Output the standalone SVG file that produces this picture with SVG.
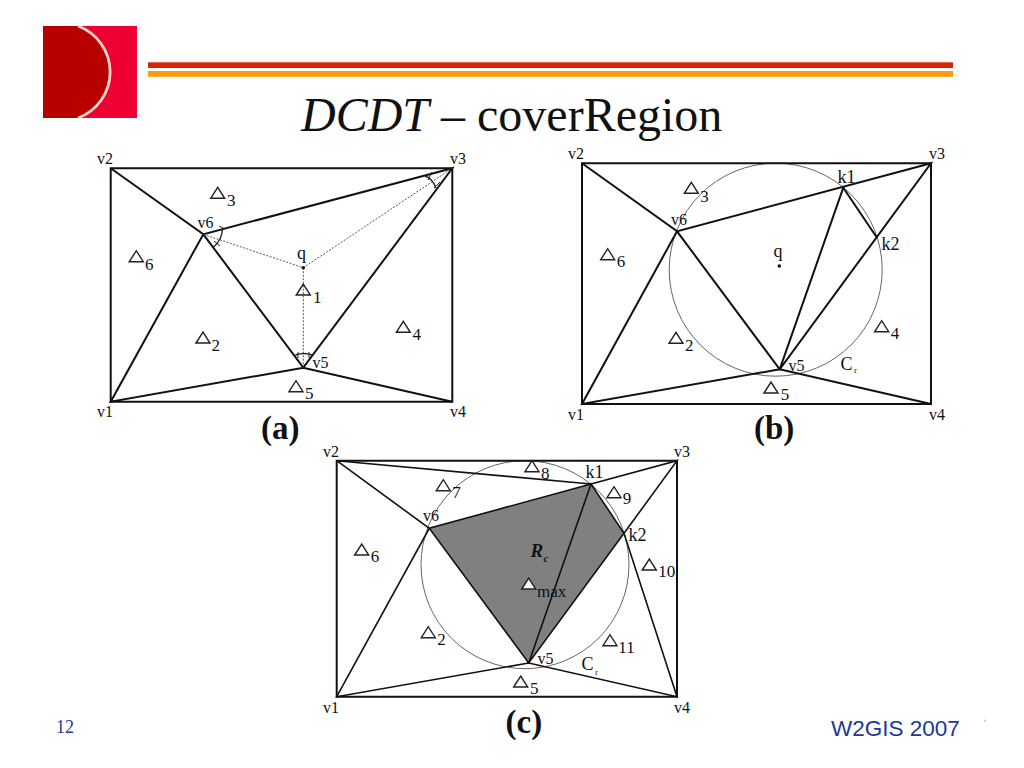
<svg xmlns="http://www.w3.org/2000/svg" xmlns:xlink="http://www.w3.org/1999/xlink" width="1024" height="768" viewBox="0 0 1024 768">
<style>
text{font-family:"Liberation Serif",serif;fill:#111}
.l{font-size:16px}
.k{font-size:18px}
.s{font-size:17px}
.cap{font-size:33px;font-weight:bold}
.e{fill:none;stroke:#111;stroke-width:2;stroke-linejoin:miter}
.t{stroke-width:1.600}
.d{fill:none;stroke:#444;stroke-width:.9;stroke-dasharray:2 1.5}
.c{fill:none;stroke:#666;stroke-width:1}
.m{fill:none;stroke:#222;stroke-width:1}
.tri{fill:none;stroke:#222;stroke-width:1.400}
</style>
<defs><path id="tri" d="M0 0L7 -11L14 0Z" class="tri"/></defs>
<rect width="1024" height="768" fill="#fff"/>
<g id="logo">
<rect x="43" y="26" width="94" height="92" fill="#ee0033"/>
<path d="M43 26H78A49 49 0 0 1 78 118H43Z" fill="#b80000"/>
<path d="M78 26A49 49 0 0 1 78 118" fill="none" stroke="#ffd5c8" stroke-width="2.800"/>
</g>
<g id="header-bars">
<rect x="148" y="62.300" width="805" height="5.700" fill="#d8260a"/>
<rect x="148" y="71" width="805" height="5.700" fill="#ff9a00"/>
</g>
<text id="title" x="301" y="131" font-size="48"><tspan font-style="italic">DCDT</tspan> – coverRegion</text>

<g id="panel-a">
<g id="a-connectors">
<path class="e" d="M110.700 168.300H452.300V401.700H110.700Z"/>
<path class="e" d="M110.700 168.300L203.300 234.300L303.300 367.700L452.300 168.300L203.300 234.300L110.700 401.700L303.300 367.700L452.300 401.700"/>
<path class="d" d="M203.300 234.300L303.300 267.700L452.300 168.300M303.300 267.700V367.700"/>
<path class="m" style="stroke-width:1.400" d="M213.500 247Q222 240 222.500 229M295.500 355Q303 352 312.500 355M425 176Q432 178 436 188"/>
<path class="m" d="M220 246L214 241M225 229L219 226M298 352V358M309 352V358M432 172L428 180M440 182L434 188"/>
</g>
<circle id="a-q-dot" cx="303.300" cy="267.700" r="1.800" fill="#111"/>
<g id="a-v1"><text class="l" x="97" y="417">v1</text></g>
<g id="a-v2"><text class="l" x="97" y="164">v2</text></g>
<g id="a-v3"><text class="l" x="450" y="164">v3</text></g>
<g id="a-v4"><text class="l" x="450" y="417">v4</text></g>
<g id="a-v5"><text class="l" x="312.500" y="368">v5</text></g>
<g id="a-v6"><text class="l" x="197.500" y="228">v6</text></g>
<g id="a-q"><text class="k" x="297" y="259">q</text></g>
<g id="a-t1"><use href="#tri" x="296.300" y="295"/><text class="s" x="313" y="302.500">1</text></g>
<g id="a-t2"><use href="#tri" x="196" y="343"/><text class="s" x="211.500" y="350.500">2</text></g>
<g id="a-t3"><use href="#tri" x="210.700" y="198.300"/><text class="s" x="227" y="205.700">3</text></g>
<g id="a-t4"><use href="#tri" x="396.300" y="332.300"/><text class="s" x="412.500" y="339.700">4</text></g>
<g id="a-t5"><use href="#tri" x="289" y="391.700"/><text class="s" x="305" y="399">5</text></g>
<g id="a-t6"><use href="#tri" x="129.300" y="261.700"/><text class="s" x="145" y="269.700">6</text></g>
<text id="a-caption" class="cap" x="261" y="439">(a)</text>
</g>

<g id="panel-b">
<g id="b-connectors">
<circle class="c" cx="775.700" cy="269.700" r="106.500"/>
<path class="e" d="M582 163.300H931V404H582Z"/>
<path class="e" d="M582 163.300L677 231.300L779.700 369.300L931 163.300L677 231.300L582 404L779.700 369.300L931 404M843.300 187.700L779.700 369.300M843.300 187.700L876.300 236.700"/>
</g>
<circle id="b-q-dot" cx="779.300" cy="266" r="1.800" fill="#111"/>
<g id="b-v1"><text class="l" x="568" y="420">v1</text></g>
<g id="b-v2"><text class="l" x="568" y="159">v2</text></g>
<g id="b-v3"><text class="l" x="929" y="159">v3</text></g>
<g id="b-v4"><text class="l" x="929" y="420">v4</text></g>
<g id="b-v5"><text class="l" x="788.500" y="371">v5</text></g>
<g id="b-v6"><text class="l" x="671" y="225">v6</text></g>
<g id="b-k1"><text class="k" x="837.500" y="182.500">k1</text></g>
<g id="b-k2"><text class="k" x="881.500" y="250">k2</text></g>
<g id="b-q"><text class="k" x="773.500" y="257">q</text></g>
<g id="b-t2"><use href="#tri" x="669" y="343.300"/><text class="s" x="685" y="350.700">2</text></g>
<g id="b-t3"><use href="#tri" x="684.300" y="193.300"/><text class="s" x="700.300" y="201.700">3</text></g>
<g id="b-t4"><use href="#tri" x="874.700" y="331.700"/><text class="s" x="890.700" y="339.300">4</text></g>
<g id="b-t5"><use href="#tri" x="764" y="393"/><text class="s" x="780.700" y="400.300">5</text></g>
<g id="b-t6"><use href="#tri" x="600.700" y="259.700"/><text class="s" x="616.700" y="267">6</text></g>
<g id="b-cr"><text class="k" x="840.500" y="369.500">C</text><text font-size="9" x="854" y="373">r</text></g>
<text id="b-caption" class="cap" x="754" y="439">(b)</text>
</g>

<g id="panel-c">
<g id="c-region"><path d="M429.300 528.300L591 484L624 533.300L528.700 663Z" fill="#808080"/></g>
<g id="c-connectors">
<circle class="c" cx="525" cy="564.700" r="104"/>
<path class="e" d="M336.700 460.700H677V696.700H336.700Z"/>
<path class="e t" d="M336.700 460.700L429.300 528.300L528.700 663L624 533.300L677 460.700L591 484L429.300 528.300L336.700 696.700L528.700 663L677 696.700L624 533.300L591 484L528.700 663M336.700 460.700L591 484"/>
</g>
<g id="c-v1"><text class="l" x="323" y="713">v1</text></g>
<g id="c-v2"><text class="l" x="323" y="457">v2</text></g>
<g id="c-v3"><text class="l" x="674" y="457">v3</text></g>
<g id="c-v4"><text class="l" x="674" y="713">v4</text></g>
<g id="c-v5"><text class="l" x="537.500" y="664">v5</text></g>
<g id="c-v6"><text class="l" x="423" y="521">v6</text></g>
<g id="c-k1"><text class="k" x="585.500" y="477.500">k1</text></g>
<g id="c-k2"><text class="k" x="628.500" y="541">k2</text></g>
<g id="c-t2"><use href="#tri" x="421.300" y="637.700"/><text class="s" x="437.300" y="645">2</text></g>
<g id="c-t5"><use href="#tri" x="513.700" y="687"/><text class="s" x="530" y="694.300">5</text></g>
<g id="c-t6"><use href="#tri" x="354.700" y="555"/><text class="s" x="370.700" y="562.300">6</text></g>
<g id="c-t7"><use href="#tri" x="436.300" y="490.700"/><text class="s" x="452.300" y="498.300">7</text></g>
<g id="c-t8"><use href="#tri" x="525" y="471.700"/><text class="s" x="541" y="479">8</text></g>
<g id="c-t9"><use href="#tri" x="607" y="497.700"/><text class="s" x="622.700" y="504.300">9</text></g>
<g id="c-t10"><use href="#tri" x="642.300" y="570"/><text class="s" x="658.300" y="576.700">10</text></g>
<g id="c-t11"><use href="#tri" x="603" y="645.700"/><text class="s" x="618.300" y="652.700">11</text></g>
<g id="c-tmax"><path d="M521.700 589L528.700 578L535.700 589Z" fill="#fff" stroke="#222" stroke-width="1.400"/><text class="s" x="537" y="597.300">max</text></g>
<g id="c-rc"><text font-size="19" font-weight="bold" font-style="italic" x="530.500" y="556.500">R</text><text font-size="11" font-weight="bold" font-style="italic" x="543.500" y="562">c</text></g>
<g id="c-cr"><text class="k" x="581.500" y="670">C</text><text font-size="9" x="595" y="675">r</text></g>
<text id="c-caption" class="cap" x="505.500" y="733">(c)</text>
</g>

<text id="page-number" x="56" y="733" font-size="18" style="fill:#1a3a9a">12</text>
<text id="footer" x="831" y="736" font-size="22.500" style="font-family:'Liberation Sans',sans-serif;fill:#1a3a9a">W2GIS 2007</text>
<path id="footer-mark" d="M985 719.500V722" stroke="#aaa" stroke-width="1"/>
</svg>
